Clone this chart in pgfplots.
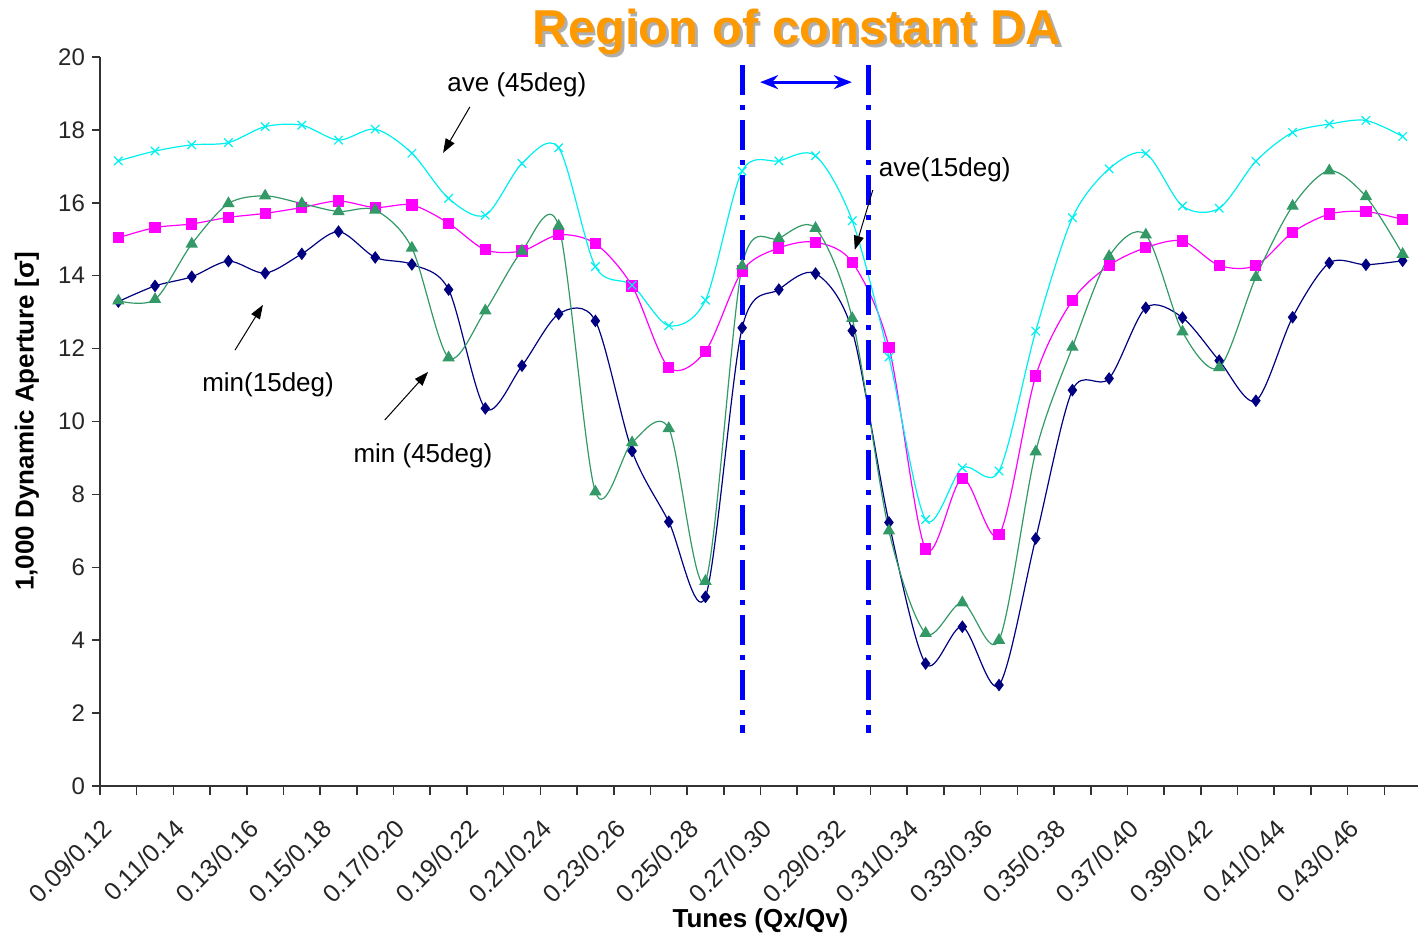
\documentclass[border=0pt]{standalone}
\usepackage{pgfplots}
\pgfplotsset{compat=1.18}
\usepackage{pgfplotstable}
\usepackage{fontspec}
\setmainfont{Liberation Sans}
\usetikzlibrary{arrows.meta}

\definecolor{navyA}{RGB}{0,0,128}
\definecolor{seaB}{RGB}{51,153,102}
\definecolor{magA}{RGB}{255,0,255}
\definecolor{cyanB}{RGB}{0,240,240}
\definecolor{titleorange}{RGB}{255,153,0}
\definecolor{shadowgray}{RGB}{175,175,175}
\definecolor{daBlue}{RGB}{0,0,255}

% i  min(15deg)  ave(15deg)  min(45deg)  ave(45deg)
\pgfplotstableread{
i  minA   aveA   minB   aveB
0  13.29  15.04  13.31  17.15
1  13.72  15.32  13.35  17.42
2  13.97  15.42  14.87  17.59
3  14.40  15.60  15.98  17.65
4  14.07  15.71  16.19  18.09
5  14.60  15.87  15.98  18.13
6  15.21  16.05  15.76  17.72
7  14.50  15.87  15.80  18.02
8  14.31  15.94  14.76  17.36
9  13.62  15.44  11.75  16.12
10 10.36  14.71  13.04  15.66
11 11.53  14.68  14.68  17.08
12 12.95  15.12  15.36  17.51
13 12.76  14.88   8.07  14.25
14  9.19  13.72   9.42  13.74
15  7.25  11.48   9.81  12.63
16  5.19  11.93   5.62  13.33
17 12.57  14.13  14.27  16.87
18 13.62  14.76  15.02  17.15
19 14.06  14.92  15.30  17.29
20 12.49  14.37  12.83  15.51
21  7.23  12.04   7.00  11.77
22  3.36   6.50   4.19   7.31
23  4.37   8.44   5.03   8.73
24  2.77   6.89   4.00   8.64
25  6.79  11.25   9.17  12.48
26 10.86  13.32  12.04  15.59
27 11.18  14.28  14.53  16.93
28 13.12  14.77  15.12  17.35
29 12.85  14.95  12.46  15.91
30 11.67  14.28  11.48  15.85
31 10.57  14.28  13.96  17.14
32 12.86  15.19  15.91  17.93
33 14.35  15.69  16.88  18.16
34 14.30  15.76  16.17  18.26
35 14.41  15.54  14.59  17.82
}\datable

\begin{document}
\begin{tikzpicture}
\begin{axis}[
    scale only axis,
    width=660.5pt, height=364.5pt,
    xmin=-0.5, xmax=35.5,
    ymin=0, ymax=20,
    axis lines*=left,
    axis line style={black!80, line width=0.8pt},
    tick align=outside,
    tick style={black!80, line width=0.8pt},
    major tick length=4pt,
    minor tick length=4.5pt,
    ytick={0,2,...,20},
    xtick={0,2,...,34},
    major x tick style={draw=none},
    minor xtick={-0.5,0.5,...,34.5},
    xticklabels={0.09/0.12,0.11/0.14,0.13/0.16,0.15/0.18,0.17/0.20,0.19/0.22,
        0.21/0.24,0.23/0.26,0.25/0.28,0.27/0.30,0.29/0.32,0.31/0.34,
        0.33/0.36,0.35/0.38,0.37/0.40,0.39/0.42,0.41/0.44,0.43/0.46},
    xticklabel style={rotate=45, anchor=north east, inner sep=0pt, xshift=-14.5pt, yshift=-1.8pt, font=\fontsize{12.5}{14}\selectfont, text=black!85},
    yticklabel style={font=\fontsize{12}{14}\selectfont, text=black!85},
    /pgf/number format/assume math mode=true,
    xlabel={\textbf{Tunes (Qx/Qv)}},
    ylabel={\textbf{1,000 Dynamic Aperture [σ]}},
    every axis x label/.style={at={(axis description cs:0.5,0)}, yshift=-67.5pt, anchor=center, font=\fontsize{13}{15}\selectfont},
    every axis y label/.style={at={(axis description cs:0,0.5)}, xshift=-36.5pt, rotate=90, anchor=center, font=\fontsize{13}{15}\selectfont},
    clip=false,
]
\addplot[navyA, line width=0.6pt, smooth, mark=diamond*, mark size=2.7pt,
    mark options={solid, fill=navyA}] table[x=i, y=minA] {\datable};
\addplot[magA, line width=0.6pt, smooth, mark=square*, mark size=2.5pt,
    mark options={solid, fill=magA}] table[x=i, y=aveA] {\datable};
\addplot[seaB, line width=0.6pt, smooth, mark=triangle*, mark size=3pt,
    mark options={solid, fill=seaB}] table[x=i, y=minB] {\datable};
\addplot[cyanB, line width=0.6pt, smooth, mark=x, mark size=3pt,
    mark options={solid, line width=0.6pt}] table[x=i, y=aveB] {\datable};

% region of constant DA
\draw[daBlue, line width=2.6pt, dash pattern=on 15pt off 5pt on 2.5pt off 5pt]
    (axis cs:17,19.78) -- (axis cs:17,1.45);
\draw[daBlue, line width=2.6pt, dash pattern=on 15pt off 5pt on 2.5pt off 5pt]
    (axis cs:20.45,19.78) -- (axis cs:20.45,1.45);
\draw[daBlue, line width=1.5pt, {Stealth[length=9pt,width=7pt]}-{Stealth[length=9pt,width=7pt]}]
    (axis cs:17.49,19.31) -- (axis cs:19.99,19.31);

\node[shadowgray, font=\fontsize{24.5}{28}\bfseries\selectfont] at ([xshift=1.3pt,yshift=-1.3pt]axis cs:18.49,20.68) {Region of constant DA};
\node[titleorange, font=\fontsize{24.5}{28}\bfseries\selectfont] at (axis cs:18.49,20.68) {Region of constant DA};

% annotations
\node[font=\fontsize{13}{15}\selectfont] at (axis cs:10.86,19.25) {ave (45deg)};
\draw[black, line width=0.5pt, -{Triangle[length=7pt,width=5pt]}] (axis cs:9.58,18.63) -- (axis cs:8.85,17.37);
\node[font=\fontsize{13}{15}\selectfont] at (axis cs:22.52,16.9) {ave(15deg)};
\draw[black, line width=0.5pt, -{Triangle[length=7pt,width=5pt]}] (axis cs:20.56,16.35) -- (axis cs:20.07,14.71);
\node[font=\fontsize{13}{15}\selectfont] at (axis cs:4.08,11.0) {min(15deg)};
\draw[black, line width=0.5pt, -{Triangle[length=7pt,width=5pt]}] (axis cs:3.18,11.96) -- (axis cs:3.94,13.20);
\node[font=\fontsize{13}{15}\selectfont] at (axis cs:8.30,9.06) {min (45deg)};
\draw[black, line width=0.5pt, -{Triangle[length=7pt,width=5pt]}] (axis cs:7.26,10.04) -- (axis cs:8.44,11.36);
\end{axis}
\pgfresetboundingbox
\path[use as bounding box] (-50pt,-73pt) rectangle (659pt,393pt);
\end{tikzpicture}
\end{document}
